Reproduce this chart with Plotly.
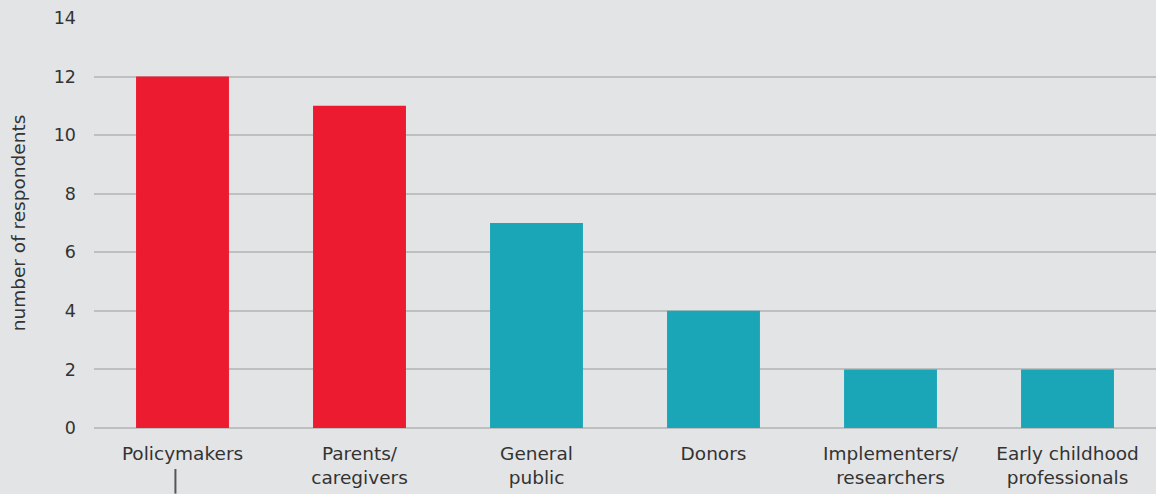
import plotly.graph_objects as go

# Respondent groups and counts
categories = ["Policymakers", "Parents/<br>caregivers", "General<br>public", "Donors",
              "Implementers/<br>researchers", "Early childhood<br>professionals"]
respondents = [12, 11, 7, 4, 2, 2]
highlight = [True, True, False, False, False, False]
y_ticks = [0, 2, 4, 6, 8, 10, 12, 14]

RED = "#ed1b2f"
TEAL = "#1ba6b7"
BG = "#e3e4e6"
GRID = "#bebfc1"
TEXT = "#333333"
FONT = "'DejaVu Sans', 'Open Sans', sans-serif"

bar_colors = [RED if h else TEAL for h in highlight]

fig = go.Figure(
    go.Bar(
        x=categories,
        y=respondents,
        marker=dict(color=bar_colors, line=dict(width=0)),
        width=0.525,
        hoverinfo="x+y",
    )
)

fig.update_layout(
    width=1156,
    height=494,
    margin=dict(l=94, r=0, t=18, b=66),
    paper_bgcolor=BG,
    plot_bgcolor=BG,
    font=dict(family=FONT, color=TEXT, size=18),
    showlegend=False,
    xaxis=dict(
        range=[-0.5, 5.5],
        showgrid=False,
        showline=False,
        zeroline=False,
        ticks="",
        ticklabelstandoff=12,
        tickfont=dict(size=18.5, color=TEXT),
        fixedrange=True,
    ),
    yaxis=dict(
        range=[0, 14],
        tickvals=y_ticks,
        showgrid=True,
        gridcolor=GRID,
        gridwidth=1.5,
        zeroline=True,
        zerolinecolor=GRID,
        zerolinewidth=1.5,
        showline=False,
        ticks="",
        ticklabelstandoff=17,
        tickfont=dict(size=17.5, color=TEXT),
        title=dict(text="number of respondents", font=dict(size=18.5, color=TEXT), standoff=23),
        fixedrange=True,
    ),
)

# Short leader line hanging below the first category label
fig.add_shape(
    type="line",
    xref="x", yref="paper",
    x0=-0.04, x1=-0.04,
    y0=-0.1, y1=-0.16,
    line=dict(color="#555555", width=2),
)

fig.write_html("out.html")
